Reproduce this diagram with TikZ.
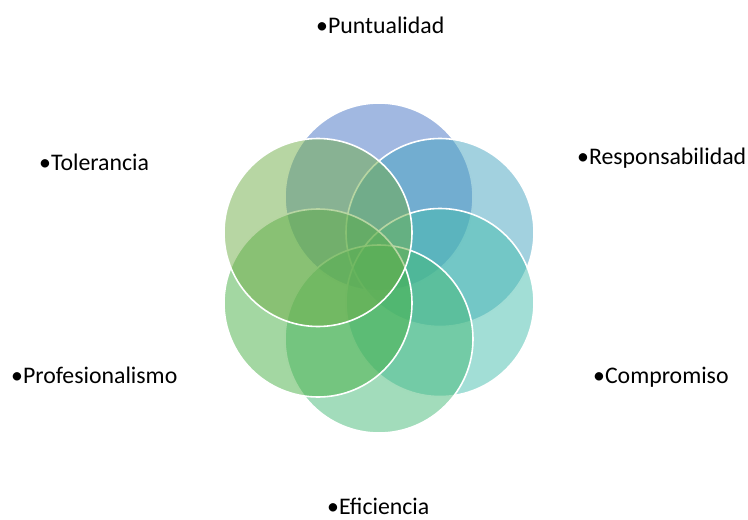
\documentclass[tikz,border=0pt]{standalone}
\usepackage{fontspec}
\setmainfont{Carlito}
\definecolor{cA}{HTML}{4472C4}
\definecolor{cB}{HTML}{45A3BF}
\definecolor{cC}{HTML}{45BDAD}
\definecolor{cD}{HTML}{45B977}
\definecolor{cE}{HTML}{47AF45}
\definecolor{cF}{HTML}{70AD47}
\begin{document}
\begin{tikzpicture}[x=1pt,y=-1pt,
  petal/.style={circle,minimum size=188pt,inner sep=0pt,draw=white,line width=1.6pt,fill opacity=0.5},
  lbl/.style={anchor=base west,inner sep=0pt,font=\fontsize{23.8}{26}\selectfont}]
\useasboundingbox (0,0) rectangle (748,520);
\node[petal,fill=cA] (p1) at (379,197) {};
\node[petal,fill=cB] (p2) at (440,232.5) {};
\node[petal,fill=cC] (p3) at (440,302.5) {};
\node[petal,fill=cD] (p4) at (379,339) {};
\node[petal,fill=cE] (p5) at (318,303) {};
\node[petal,fill=cF] (p6) at (318,232.5) {};
\node[lbl] (t1) at (316,33) {•Puntualidad};
\node[lbl] (t2) at (577,164) {•Responsabilidad};
\node[lbl] (t3) at (593,383) {•Compromiso};
\node[lbl] (t4) at (327,514) {•Eficiencia};
\node[lbl] (t5) at (11,383) {•Profesionalismo};
\node[lbl] (t6) at (39,170) {•Tolerancia};
\end{tikzpicture}
\end{document}
